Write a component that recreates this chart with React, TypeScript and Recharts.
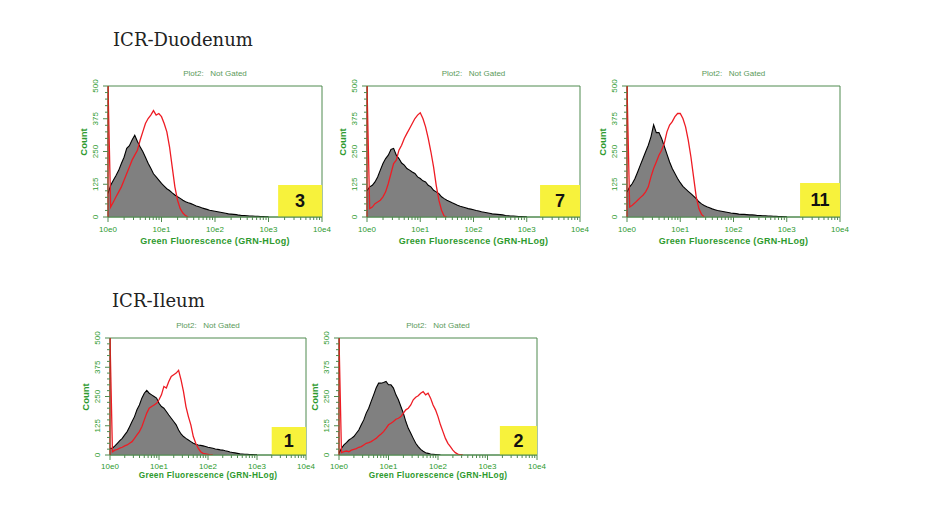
import React from 'react';
import { ComposedChart, Area, Line, XAxis, YAxis, ReferenceArea } from 'recharts';

// channel spacing on the log axis (decades per channel)
const CHANNEL_STEP = 0.05;

// ICR-Duodenum, sample 3
const GRAY_D3 = [90, 121, 140, 158, 178, 204, 228, 262, 272, 294, 312, 288, 268, 250, 228, 205, 186, 165, 153, 141, 128, 118, 108, 101, 92, 84, 77, 71, 64, 58, 54, 51, 47, 42, 39, 35, 32, 29, 26, 24, 22, 20, 18, 16, 14, 12, 11, 10, 9, 7, 6, 6, 5, 4, 4, 3, 3, 2, 2, 1, 1];
const RED_D3 = [500, 38, 57, 77, 96, 115, 140, 166, 191, 217, 236, 255, 293, 325, 357, 376, 389, 406, 389, 395, 383, 357, 325, 268, 191, 115, 64, 32, 15, 5, 0];

// ICR-Duodenum, sample 7
const GRAY_D7 = [100, 115, 121, 134, 153, 179, 204, 223, 236, 258, 262, 236, 223, 206, 198, 185, 179, 172, 166, 153, 147, 138, 134, 121, 115, 102, 96, 89, 77, 70, 64, 59, 54, 50, 45, 41, 38, 35, 32, 30, 28, 25, 23, 20, 18, 16, 14, 12, 11, 10, 9, 8, 6, 5, 4, 4, 3, 2, 2, 1, 1];
const RED_D7 = [500, 32, 38, 51, 57, 64, 77, 96, 128, 166, 204, 217, 255, 274, 300, 319, 338, 357, 376, 389, 398, 376, 344, 300, 249, 191, 121, 64, 26, 3, 0];

// ICR-Duodenum, sample 11
const GRAY_D11 = [95, 115, 128, 147, 172, 198, 223, 249, 274, 306, 352, 322, 322, 300, 270, 240, 210, 185, 166, 147, 131, 117, 107, 98, 89, 80, 70, 58, 50, 44, 39, 35, 31, 28, 25, 23, 21, 19, 17, 15, 14, 13, 11, 10, 10, 9, 8, 8, 7, 6, 6, 5, 5, 4, 4, 3, 3, 2, 2, 1, 1];
const RED_D11 = [500, 38, 45, 54, 64, 74, 83, 96, 115, 153, 185, 210, 236, 255, 281, 325, 351, 364, 383, 395, 395, 376, 344, 293, 230, 153, 77, 32, 10, 0];

// ICR-Ileum, sample 1
const GRAY_I1 = [29, 29, 39, 50, 61, 71, 86, 100, 121, 143, 164, 193, 214, 243, 264, 276, 264, 257, 250, 243, 221, 207, 200, 186, 171, 157, 143, 129, 107, 90, 79, 71, 64, 57, 50, 46, 43, 41, 39, 36, 33, 31, 29, 26, 24, 22, 21, 18, 16, 13, 11, 9, 7, 5, 4, 3, 3, 2, 2, 1, 1];
const RED_I1 = [500, 14, 21, 24, 29, 33, 39, 43, 50, 57, 71, 86, 100, 121, 150, 179, 200, 207, 214, 221, 236, 257, 293, 286, 314, 336, 343, 350, 362, 321, 271, 207, 164, 129, 79, 50, 29, 14, 7, 5, 3, 1, 0];

// ICR-Ileum, sample 2
const GRAY_I2 = [7, 29, 43, 53, 64, 71, 79, 93, 107, 129, 150, 179, 200, 229, 257, 286, 307, 307, 310, 314, 300, 300, 286, 257, 236, 207, 179, 143, 114, 93, 71, 50, 36, 24, 16, 10, 7, 4, 3, 2, 1, 0];
const RED_I2 = [500, 10, 14, 17, 14, 21, 24, 27, 33, 36, 43, 50, 53, 57, 64, 71, 81, 90, 100, 114, 129, 136, 143, 153, 157, 164, 179, 193, 200, 214, 236, 247, 253, 264, 271, 257, 264, 243, 214, 193, 164, 129, 100, 71, 50, 36, 21, 10, 4, 1, 0];

const X_TICKS = [
  0, 0.301, 0.477, 0.602, 0.699, 0.778, 0.845, 0.903, 0.954,
  1, 1.301, 1.477, 1.602, 1.699, 1.778, 1.845, 1.903, 1.954,
  2, 2.301, 2.477, 2.602, 2.699, 2.778, 2.845, 2.903, 2.954,
  3, 3.301, 3.477, 3.602, 3.699, 3.778, 3.845, 3.903, 3.954,
  4,
];
const X_LABELS = ['10e0', '10e1', '10e2', '10e3', '10e4'];
const Y_TICKS = [0, 25, 50, 75, 100, 125, 150, 175, 200, 225, 250, 275, 300, 325, 350, 375, 400, 425, 450, 475, 500];
const Y_LABELS = [0, 125, 250, 375, 500];

const FRAME = '#4f8a4f';
const GREEN = '#2e9a2e';
const TITLE_GREEN = '#5a9a5a';
const SANS = '"Liberation Sans", Arial, sans-serif';

type PanelProps = {
  gray: number[];
  red: number[];
  left: number;
  top: number;
  w: number;
  h: number;
  tag: string;
  boxFrom: number;
  boxTop: number;
  small?: boolean;
  countDy?: number;
};

function buildRows(gray: number[], red: number[]) {
  const n = Math.max(gray.length, red.length);
  const rows = [];
  for (let i = 0; i < n; i++) {
    rows.push({
      x: i * CHANNEL_STEP,
      g: i < gray.length ? gray[i] : null,
      r: i < red.length ? red[i] : null,
    });
  }
  return rows;
}

function Panel(props: PanelProps) {
  const { gray, red, left, top, w, h, tag, boxFrom, boxTop, small, countDy = 0 } = props;
  const rows = buildRows(gray, red);
  const tickFs = 8;
  const titleFs = small ? 8.3 : 9;

  const xTick = (p: any) => {
    const v = p.payload.value;
    const major = Math.abs(v - Math.round(v)) < 0.001;
    return (
      <g>
        <line x1={p.x} x2={p.x} y1={p.y} y2={p.y + (major ? 5 : 3)} stroke={FRAME} strokeWidth={1} />
        {major && (
          <text x={p.x} y={p.y + (small ? 11 : 12)} textAnchor="middle" dominantBaseline="central" fontSize={tickFs} fill={GREEN} fontFamily={SANS}>
            {X_LABELS[Math.round(v)]}
          </text>
        )}
      </g>
    );
  };

  const yTick = (p: any) => {
    const v = p.payload.value;
    const major = Y_LABELS.includes(v);
    const tx = p.x - 13;
    return (
      <g>
        <line x1={p.x - (major ? 5 : 3)} x2={p.x} y1={p.y} y2={p.y} stroke={FRAME} strokeWidth={1} />
        {major && (
          <text x={tx} y={p.y} transform={`rotate(-90, ${tx}, ${p.y})`} textAnchor="middle" dominantBaseline="central" fontSize={tickFs} fill={GREEN} fontFamily={SANS}>
            {v}
          </text>
        )}
      </g>
    );
  };

  return (
    <>
      <div style={{ position: 'absolute', left: left - 40, top: top - 10 }}>
        <ComposedChart width={w + 60} height={h + 45} data={rows} margin={{ top: 10, right: 20, left: 0, bottom: 0 }}>
          <XAxis dataKey="x" type="number" domain={[0, 4]} ticks={X_TICKS} interval={0} tickLine={false} tickSize={0} tickMargin={0} axisLine={{ stroke: FRAME }} tick={xTick} height={35} allowDataOverflow />
          <YAxis type="number" domain={[0, 500]} ticks={Y_TICKS} interval={0} tickLine={false} tickSize={0} tickMargin={0} axisLine={{ stroke: '#b0301e', strokeWidth: 1.3 }} tick={yTick} width={40} allowDataOverflow />
          <ReferenceArea x1={0} x2={4} y1={0} y2={500} fill="none" fillOpacity={0} stroke={FRAME} strokeWidth={1} ifOverflow="visible" />
          <Area dataKey="g" type="linear" fill="#808080" fillOpacity={1} stroke="#000000" strokeWidth={1.1} dot={false} activeDot={false} isAnimationActive={false} />
          <Line dataKey="r" type="linear" stroke="#ee1c24" strokeWidth={1.3} dot={false} activeDot={false} isAnimationActive={false} />
          <ReferenceArea
            x1={boxFrom}
            x2={4}
            y1={0}
            y2={boxTop}
            fill="#f7f23c"
            fillOpacity={1}
            stroke="none"
            ifOverflow="visible"
            label={{ value: tag, position: 'center', fill: '#111', fontSize: 18, fontWeight: 700, fontFamily: SANS }}
          />
        </ComposedChart>
      </div>
      <div style={{ position: 'absolute', left: left + w / 2, top: top - 13, transform: 'translate(-50%, -50%)', fontFamily: SANS, fontSize: 8, color: TITLE_GREEN, whiteSpace: 'pre' }}>
        {'Plot2:   Not Gated'}
      </div>
      <div style={{ position: 'absolute', left: left + w / 2, top: top + h + (small ? 20 : 24), transform: 'translate(-50%, -50%)', fontFamily: SANS, fontSize: titleFs, fontWeight: 700, color: GREEN, whiteSpace: 'nowrap', letterSpacing: 0.3 }}>
        Green Fluorescence (GRN-HLog)
      </div>
      <div style={{ position: 'absolute', left: left - 25, top: top + h / 2 + countDy, transform: 'translate(-50%, -50%) rotate(-90deg)', fontFamily: SANS, fontSize: 9.5, fontWeight: 700, color: GREEN, whiteSpace: 'nowrap' }}>
        Count
      </div>
    </>
  );
}

export default function App() {
  const heading: React.CSSProperties = {
    position: 'absolute',
    fontFamily: '"DejaVu Serif", serif',
    fontSize: 18,
    lineHeight: '20px',
    color: '#222',
    whiteSpace: 'nowrap',
  };
  return (
    <div style={{ position: 'absolute', left: 0, top: 0, width: 935, height: 522, background: '#fff', overflow: 'hidden' }}>
      <div style={{ ...heading, left: 113, top: 30 }}>ICR-Duodenum</div>
      <div style={{ ...heading, left: 112, top: 291 }}>ICR-Ileum</div>

      <Panel gray={GRAY_D3} red={RED_D3} left={108} top={86} w={214} h={131} tag="3" boxFrom={3.18} boxTop={122} countDy={-10} />
      <Panel gray={GRAY_D7} red={RED_D7} left={367} top={86} w={213} h={131} tag="7" boxFrom={3.25} boxTop={122} countDy={-10} />
      <Panel gray={GRAY_D11} red={RED_D11} left={627} top={86} w={213} h={131} tag="11" boxFrom={3.25} boxTop={130} countDy={-10} />

      <Panel gray={GRAY_I1} red={RED_I1} left={110} top={338} w={196} h={117} tag="1" boxFrom={3.3} boxTop={120} small />
      <Panel gray={GRAY_I2} red={RED_I2} left={339} top={338} w={198} h={117} tag="2" boxFrom={3.25} boxTop={124} small />
    </div>
  );
}
